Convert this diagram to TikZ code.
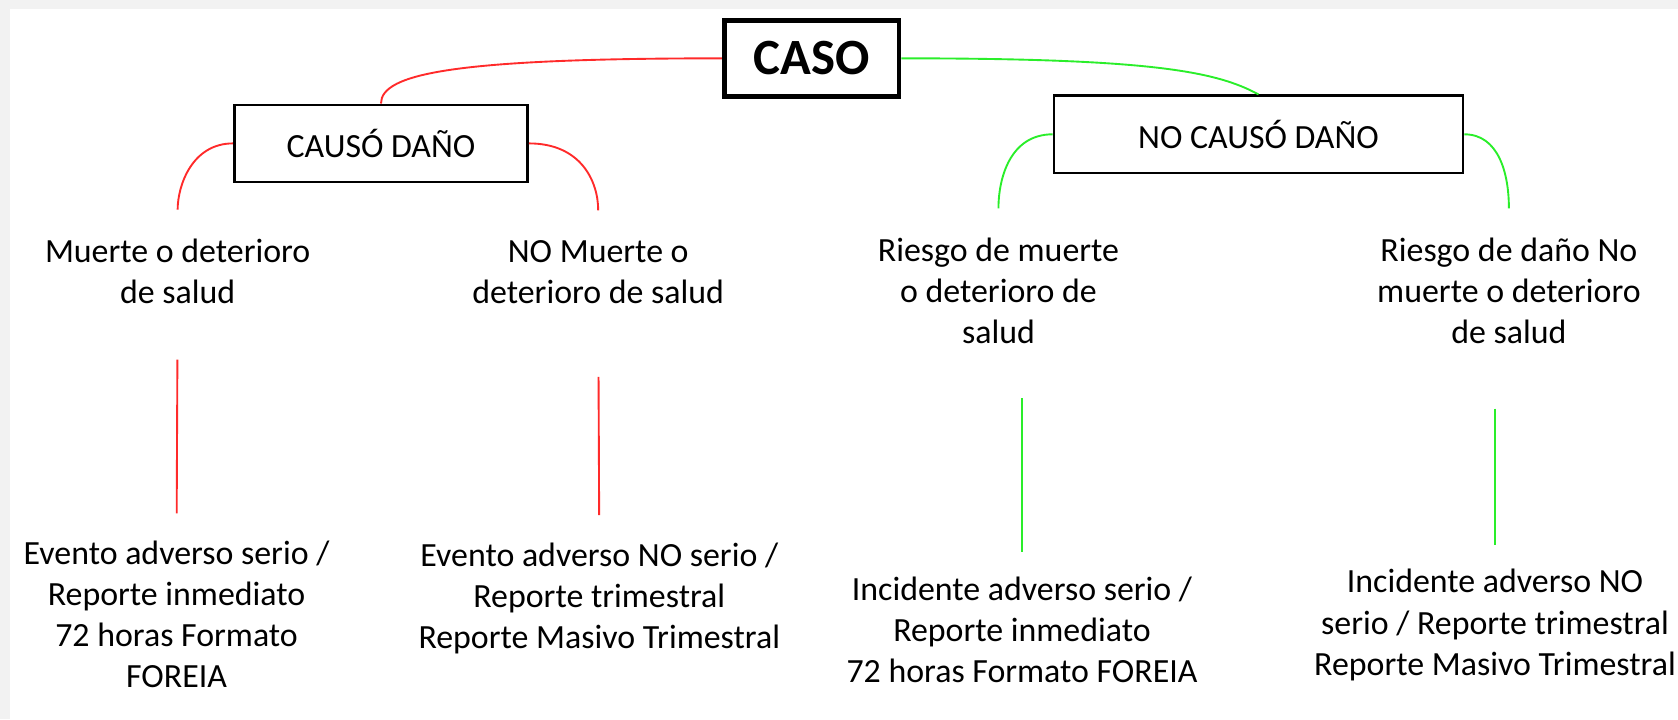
\documentclass[tikz,border=0pt]{standalone}
\usepackage{fontspec}
\setmainfont{Carlito}
\definecolor{bggray}{HTML}{F2F2F2}
\definecolor{redline}{HTML}{FF2A2A}
\definecolor{greenline}{HTML}{2AEE2A}
\begin{document}
\begin{tikzpicture}[x=0.01cm,y=-0.01cm,
  txt/.style={inner sep=0pt, align=center, font=\fontsize{9}{10.9}\selectfont},
  box/.style={draw, line width=0.7pt, minimum height=0.72cm, inner sep=0pt, font=\fontsize{9}{10.9}\selectfont},
  casobox/.style={draw, line width=1.3pt, minimum width=1.63cm, minimum height=0.71cm, inner sep=0pt, font=\fontsize{13.5}{16}\selectfont\bfseries},
  rl/.style={draw=redline, line width=0.5pt},
  gl/.style={draw=greenline, line width=0.5pt}]
\fill[bggray] (0,0) rectangle (1568,672);
\fill[white] (9,8) rectangle (1568,672);
\useasboundingbox (0,0) rectangle (1568,672);

\node[casobox] (caso) at (758.5,54.5) {CASO};
\node[box, minimum width=2.74cm] (causo) at (356,134) {CAUSÓ DAÑO};
\node[box, minimum width=3.82cm] (nocauso) at (1176,125.5) {NO CAUSÓ DAÑO};

\node[txt] (m1) at (166,254) {Muerte o deterioro\\de salud};
\node[txt] (m2) at (559,254) {NO Muerte o\\deterioro de salud};
\node[txt] (m3) at (933,272) {Riesgo de muerte\\o deterioro de\\salud};
\node[txt] (m4) at (1410,272) {Riesgo de daño No\\muerte o deterioro\\de salud};

\node[txt] (e1) at (165,574) {Evento adverso serio /\\Reporte inmediato\\72 horas Formato\\FOREIA};
\node[txt] (e2) at (560,559) {Evento adverso NO serio /\\Reporte trimestral\\Reporte Masivo Trimestral};
\node[txt] (e3) at (955,589) {Incidente adverso serio /\\Reporte inmediato\\72 horas Formato FOREIA};
\node[txt] (e4) at (1397,584) {Incidente adverso NO\\serio / Reporte trimestral\\Reporte Masivo Trimestral};

\draw[rl] (caso.west) .. controls +(-250,0) and +(0,-28) .. (causo.north);
\draw[gl] (caso.east) .. controls +(230,0) and +(-40,-22) .. (nocauso.north);

\draw[rl, shorten >=7.7pt] (causo.west) .. controls +(-38,0) and +(0,-50) .. (m1.north);
\draw[rl, shorten >=7.7pt] (causo.east) .. controls +(48,0) and +(0,-55) .. (m2.north);
\draw[gl, shorten >=7.7pt] (nocauso.west) .. controls +(-40,0) and +(0,-55) .. (m3.north);
\draw[gl, shorten >=7.7pt] (nocauso.east) .. controls +(32,0) and +(0,-60) .. (m4.north);

\draw[rl, shorten <=14.5pt, shorten >=7.1pt] (m1.south) -- (e1.north);
\draw[rl, shorten <=19.3pt, shorten >=7.1pt] (m2.south) -- (e2.north);
\draw[gl, shorten <=14.2pt, shorten >=6.5pt] (m3.south -| e3.north) -- (e3.north);
\draw[gl, shorten <=17pt, shorten >=6.3pt] (m4.south -| e4.north) -- (e4.north);
\end{tikzpicture}
\end{document}
